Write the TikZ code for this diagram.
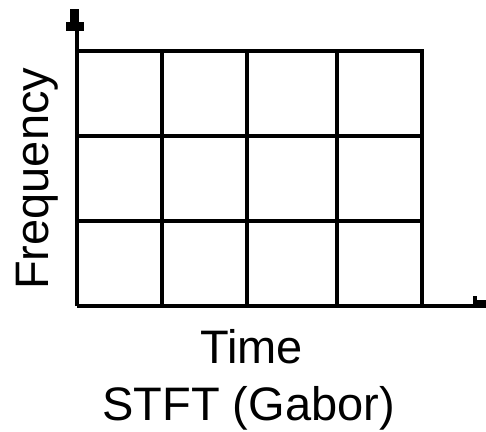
\documentclass[tikz,border=0pt]{standalone}
\usepackage{fontspec}
\setmainfont{Liberation Sans}
\begin{document}
\begin{tikzpicture}[x=1pt,y=-1pt,
  gridline/.style={line width=4pt,line cap=rect},
  axisline/.style={line width=4pt},
  lbl/.style={inner sep=0pt,font=\fontsize{47}{56}\selectfont}]
\useasboundingbox (0,0) rectangle (486,431);
% axes
\coordinate (o) at (77,306);
\coordinate (ytop) at (77,24);
\coordinate (xend) at (486,306);
\draw[axisline] (o) -- (ytop);
\draw[axisline] (o) -- (xend);
% arrow heads
\fill (70,9) rectangle (79,23);
\fill (66,22) rectangle (84,31);
\fill (473,296) rectangle (477,301);
\fill (473,300) rectangle (486,308);
% grid
\foreach \x in {162,247,337,422} \draw[gridline] (\x,51) -- (\x,306);
\foreach \y in {51,136,221} \draw[gridline] (77,\y) -- (422,\y);
% labels
\node[lbl,rotate=90,anchor=base west] (freq) at (48,290) {Frequency};
\node[lbl,anchor=base] (time) at (251.5,363) {Time};
\node[lbl,anchor=base] (stft) at (248.5,420) {STFT (Gabor)};
\end{tikzpicture}
\end{document}
